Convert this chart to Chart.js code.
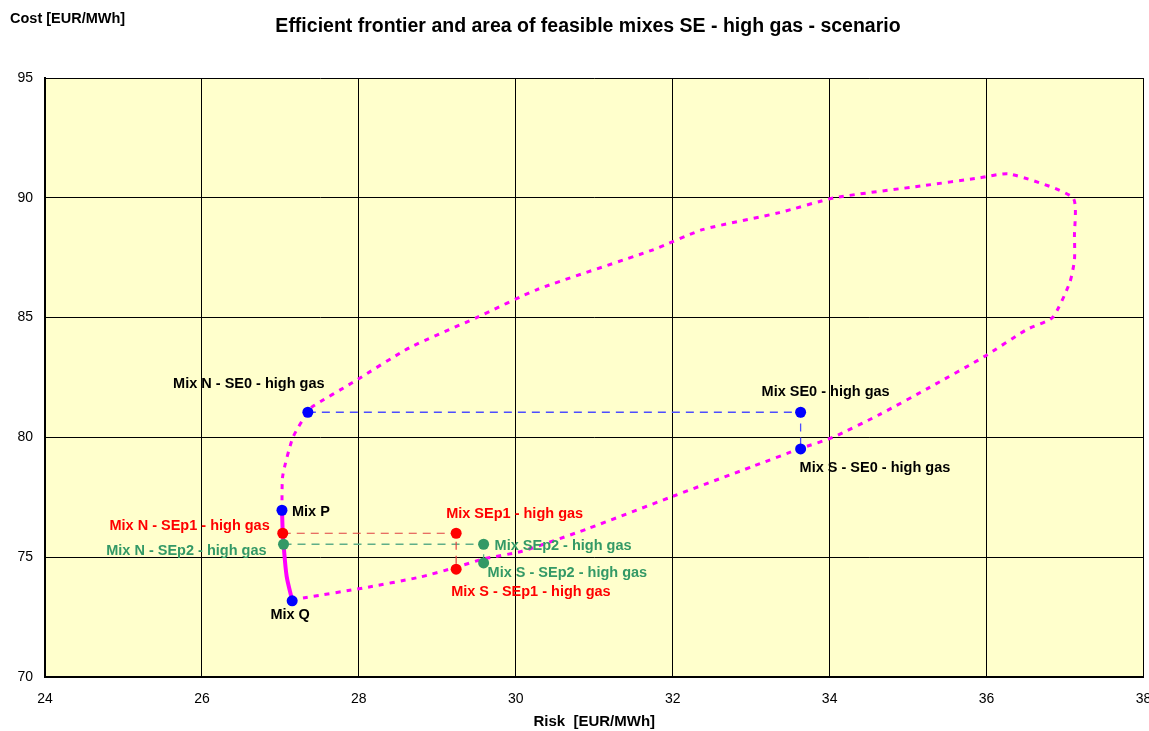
<!DOCTYPE html>
<html>
<head>
<meta charset="utf-8">
<script src="https://cdn.jsdelivr.net/npm/chart.js@4.4.0/dist/chart.umd.min.js"></script>
<style>
html,body{margin:0;padding:0;background:#fff;}
#wrap{width:1149px;height:731px;position:relative;}
</style>
</head>
<body>
<div id="wrap"><canvas id="c" width="1149" height="731"></canvas></div>
<script>
// ---- data ----
const chartTitle = "Efficient frontier and area of feasible mixes SE - high gas - scenario";
const yAxisTitle = "Cost [EUR/MWh]";
const xAxisTitle = "Risk  [EUR/MWh]";
const xTicksMin = 24, xTicksMax = 38, xTickStep = 2;
const yTicksMin = 70, yTicksMax = 95, yTickStep = 5;

// feasible area boundary (risk, cost)
const areaRisk = [27.15, 27.33, 28.05, 28.78, 29.24, 29.58, 30.08, 30.9, 32.0, 33.02, 33.63, 34.04, 34.64, 35.27, 35.97, 36.51, 36.84, 37.06, 37.12, 37.12, 37.1, 36.29, 35.91, 35.18, 34.06, 33.36, 32.38, 31.75, 30.27, 29.5, 28.65, 27.92, 27.41, 27.35, 27.16, 27.03, 27.02];
const areaCost = [73.21, 73.32, 73.71, 74.17, 74.58, 74.92, 75.25, 76.17, 77.54, 78.79, 79.54, 80.0, 80.96, 82.08, 83.37, 84.5, 85.0, 86.46, 87.4, 88.4, 90.0, 91.0, 90.83, 90.5, 90.0, 89.38, 88.67, 87.83, 86.17, 85.0, 83.75, 82.29, 81.29, 81.08, 80.0, 78.4, 77.0];

// efficient frontier (Mix P -> Mix Q)
const frontierRisk = [27.02, 27.03, 27.04, 27.08, 27.15];
const frontierCost = [77.0, 76.04, 75.55, 74.2, 73.21];

// mixes
const se0Names = ["Mix N - SE0 - high gas", "Mix SE0 - high gas", "Mix S - SE0 - high gas"];
const se0Risk = [27.35, 33.63, 33.63];
const se0Cost = [81.05, 81.05, 79.52];

const sep1Names = ["Mix N - SEp1 - high gas", "Mix SEp1 - high gas", "Mix S - SEp1 - high gas"];
const sep1Risk = [27.03, 29.24, 29.24];
const sep1Cost = [76.0, 76.0, 74.5];

const sep2Names = ["Mix N - SEp2 - high gas", "Mix SEp2 - high gas", "Mix S - SEp2 - high gas"];
const sep2Risk = [27.04, 29.59, 29.59];
const sep2Cost = [75.54, 75.54, 74.76];

const pqNames = ["Mix P", "Mix Q"];
const pqRisk = [27.02, 27.15];
const pqCost = [76.96, 73.18];

// ---- build ----
const zip = (xs, ys) => xs.map((x, i) => ({x: x, y: ys[i]}));

const BLUE = '#0000FF', RED = '#FF0000', GREEN = '#339966', MAGENTA = '#FF00FF';
const FONT = '"Liberation Sans", Arial, sans-serif';

// label placement (pixel offsets from the point, alignment)
const labelStyle = {
  "Mix N - SE0 - high gas":  {dx: -59, dy: -30, align: 'center', color: '#000000'},
  "Mix SE0 - high gas":      {dx: 25,  dy: -22, align: 'center', color: '#000000'},
  "Mix S - SE0 - high gas":  {dx: -1,  dy: 18,  align: 'left',   color: '#000000'},
  "Mix P":                   {dx: 10,  dy: 0,   align: 'left',   color: '#000000'},
  "Mix Q":                   {dx: -2,  dy: 13,  align: 'center', color: '#000000'},
  "Mix N - SEp1 - high gas": {dx: -13, dy: -9,  align: 'right',  color: RED},
  "Mix SEp1 - high gas":     {dx: -10, dy: -21, align: 'left',   color: RED},
  "Mix S - SEp1 - high gas": {dx: -5,  dy: 21,  align: 'left',   color: RED},
  "Mix N - SEp2 - high gas": {dx: -17, dy: 5,   align: 'right',  color: GREEN},
  "Mix SEp2 - high gas":     {dx: 11,  dy: 0,   align: 'left',   color: GREEN},
  "Mix S - SEp2 - high gas": {dx: 4,   dy: 9,   align: 'left',   color: GREEN}
};

const labelled = [
  [se0Names, se0Risk, se0Cost],
  [sep1Names, sep1Risk, sep1Cost],
  [sep2Names, sep2Risk, sep2Cost],
  [pqNames, pqRisk, pqCost]
];

const bgPlugin = {
  id: 'bg',
  beforeDraw(chart) {
    const {ctx, chartArea: a} = chart;
    ctx.save();
    ctx.fillStyle = '#FFFFCC';
    ctx.fillRect(a.left, a.top, a.right - a.left, a.bottom - a.top);
    ctx.restore();
  }
};

const textPlugin = {
  id: 'texts',
  afterDraw(chart) {
    const ctx = chart.ctx;
    const xs = chart.scales.x, ys = chart.scales.y;
    ctx.save();
    ctx.textBaseline = 'middle';
    ctx.font = 'bold 14.5px ' + FONT;
    labelled.forEach(([names, rx, cy]) => {
      names.forEach((n, i) => {
        const s = labelStyle[n];
        ctx.fillStyle = s.color;
        ctx.textAlign = s.align;
        ctx.fillText(n, xs.getPixelForValue(rx[i]) + s.dx, ys.getPixelForValue(cy[i]) + s.dy + 1.5);
      });
    });
    ctx.fillStyle = '#000';
    ctx.textAlign = 'center';
    ctx.font = 'bold 19.5px ' + FONT;
    ctx.fillText(chartTitle, 588, 27);
    ctx.textAlign = 'left';
    ctx.font = 'bold 14.5px ' + FONT;
    ctx.fillText(yAxisTitle, 10, 19);
    ctx.restore();
  }
};

new Chart(document.getElementById('c'), {
  type: 'scatter',
  data: {
    datasets: [
      {data: zip(pqRisk, pqCost), showLine: false, pointRadius: 5.5, pointBackgroundColor: BLUE, pointBorderColor: BLUE, pointBorderWidth: 0},
      {data: zip(se0Risk, se0Cost), showLine: true, borderColor: '#4d4dff', borderWidth: 1.3, borderDash: [8, 6], pointRadius: 5.5, pointBackgroundColor: BLUE, pointBorderColor: BLUE, pointBorderWidth: 0},
      {data: zip(sep1Risk, sep1Cost), showLine: true, borderColor: '#e04040', borderWidth: 1.2, borderDash: [8, 6], pointRadius: 5.5, pointBackgroundColor: RED, pointBorderColor: RED, pointBorderWidth: 0},
      {data: zip(sep2Risk, sep2Cost), showLine: true, borderColor: '#5fae88', borderWidth: 1.3, borderDash: [8, 6], pointRadius: 5.5, pointBackgroundColor: GREEN, pointBorderColor: GREEN, pointBorderWidth: 0},
      {data: zip(frontierRisk, frontierCost), showLine: true, borderColor: MAGENTA, borderWidth: 4, pointRadius: 0, tension: 0.3},
      {data: zip(areaRisk, areaCost), showLine: true, borderColor: MAGENTA, borderWidth: 3, borderDash: [5, 6], pointRadius: 0, tension: 0.2}
    ]
  },
  options: {
    responsive: false,
    animation: false,
    events: [],
    layout: {padding: {top: 78, right: 5, left: 0, bottom: 0}},
    plugins: {legend: {display: false}, tooltip: {enabled: false}, title: {display: false}},
    scales: {
      x: {
        type: 'linear', min: xTicksMin, max: xTicksMax,
        ticks: {stepSize: xTickStep, padding: 14, maxRotation: 0, color: '#000', font: {family: FONT, size: 14}},
        grid: {color: '#000', lineWidth: 1, drawTicks: false},
        border: {color: '#000', width: 2},
        title: {display: true, text: xAxisTitle, color: '#000', font: {family: FONT, size: 15, weight: 'bold'}, padding: {top: 0, bottom: 0}},
        afterFit(s) { s.height = 54; s.paddingLeft = 0; s.paddingRight = 0; }
      },
      y: {
        type: 'linear', min: yTicksMin, max: yTicksMax,
        ticks: {stepSize: yTickStep, padding: 12, color: '#000', font: {family: FONT, size: 14}},
        grid: {color: '#000', lineWidth: 1, drawTicks: false},
        border: {color: '#000', width: 2},
        afterFit(s) { s.width = 45; }
      }
    }
  },
  plugins: [bgPlugin, textPlugin]
});
</script>
</body>
</html>
